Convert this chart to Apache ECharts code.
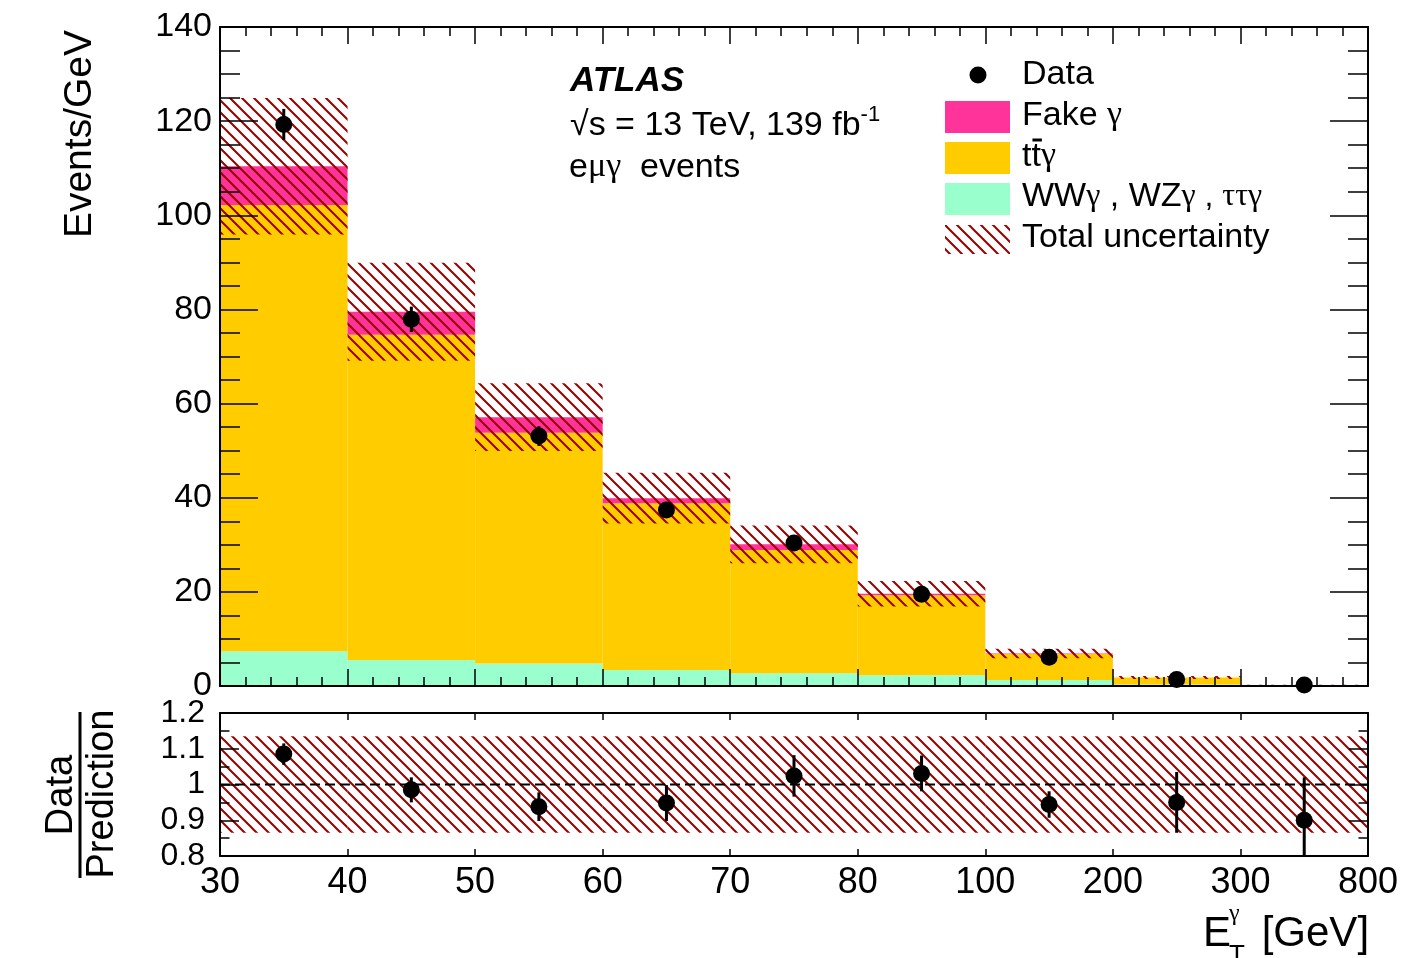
<!DOCTYPE html>
<html>
<head>
<meta charset="utf-8">
<script src="https://cdn.jsdelivr.net/npm/echarts@6/dist/echarts.min.js"></script>
<style>
  html, body { margin: 0; padding: 0; background: #fff; }
  #chart { width: 1415px; height: 958px; }
</style>
</head>
<body>
<div id="chart"></div>
<script>
// Bin edges of the photon transverse energy, in GeV (bins drawn with equal width)
const binEdgeLabels = ['30', '40', '50', '60', '70', '80', '100', '200', '300', '800'];

// Stacked predictions, events/GeV per bin
const otherBkg  = [7.4, 5.5, 4.8, 3.4, 2.7, 2.3, 1.3, 0.3, 0.1];      // WWγ, WZγ, ττγ
const ttGamma   = [94.8, 69.1, 49.0, 35.4, 26.2, 17.0, 5.5, 1.5, 0.1];
const fakeGamma = [8.2, 4.9, 3.3, 1.1, 1.2, 0.3, 0.1, 0.0, 0.0];

// Total uncertainty on the prediction (absolute, events/GeV)
const totalUnc = [14.5, 10.4, 7.2, 5.4, 4.0, 2.7, 1.0, 0.3, 0.05];

// Observed data and statistical errors
const dataVals = [119.3, 77.9, 53.1, 37.4, 30.4, 19.5, 6.1, 1.4, 0.2];
const dataErrs = [3.3, 2.7, 2.1, 1.7, 1.6, 0.9, 0.5, 0.2, 0.1];

// Data / prediction ratio
const ratioVals = [1.085, 0.985, 0.938, 0.948, 1.024, 1.031, 0.944, 0.950, 0.900];
const ratioErrs = [0.030, 0.035, 0.040, 0.050, 0.058, 0.050, 0.037, 0.085, 0.120];
const ratioBand = [0.135, 0.135, 0.135, 0.135, 0.135, 0.135, 0.135, 0.135, 0.135];

// Axis tick values
const mainYTicks  = { min: 0, max: 140, step: 20 };
const ratioYTicks = { min: 0.8, max: 1.2, step: 0.1 };

const COLORS = { other: '#99ffcc', tt: '#ffcc00', fake: '#ff3399', hatch: '#990000' };
const SANS = '"Liberation Sans", Arial, Helvetica, sans-serif';
const SERIF = '"Liberation Serif", "DejaVu Serif", serif';

// Diagonal "\\\\" hatch used for the uncertainty bands
function hatchPattern(size, width, color) {
  const c = document.createElement('canvas');
  c.width = size; c.height = size;
  const g = c.getContext('2d');
  g.strokeStyle = color; g.lineWidth = width;
  g.beginPath();
  for (let k = -1; k <= 1; k++) {
    g.moveTo(k * size - 1, -1);
    g.lineTo(k * size + size + 1, size + 1);
  }
  g.stroke();
  return { image: c, repeat: 'repeat' };
}
const hatch = hatchPattern(12, 2, COLORS.hatch);

// Build stacked [bin, low, high] rows
const nBins = dataVals.length;
const otherRows = [], ttRows = [], fakeRows = [], uncRows = [], dataRows = [];
const ratioBandRows = [], ratioRows = [];
for (let i = 0; i < nBins; i++) {
  const a = otherBkg[i], b = a + ttGamma[i], c = b + fakeGamma[i];
  otherRows.push([i, 0, a]);
  ttRows.push([i, a, b]);
  fakeRows.push([i, b, c]);
  uncRows.push([i, c - totalUnc[i], c + totalUnc[i]]);
  dataRows.push([i, dataVals[i], dataErrs[i]]);
  ratioBandRows.push([i, 1 - ratioBand[i], 1 + ratioBand[i]]);
  ratioRows.push([i, ratioVals[i], ratioErrs[i]]);
}

function binRect(fill) {
  return function (params, api) {
    const i = api.value(0), lo = api.value(1), hi = api.value(2);
    const p0 = api.coord([i, hi]);
    const p1 = api.coord([i + 1, lo]);
    return {
      type: 'rect',
      shape: { x: p0[0], y: p0[1], width: p1[0] - p0[0], height: p1[1] - p0[1] },
      style: { fill: fill, stroke: null }
    };
  };
}

function pointWithError(yMin) {
  return function (params, api) {
    const x = api.value(0) + 0.5, y = api.value(1), e = api.value(2);
    const c = api.coord([x, y]);
    const top = api.coord([x, y + e]);
    const bot = api.coord([x, Math.max(y - e, yMin)]);
    return {
      type: 'group',
      children: [
        { type: 'line', shape: { x1: c[0], y1: top[1], x2: c[0], y2: bot[1] }, style: { stroke: '#000', lineWidth: 3 } },
        { type: 'circle', shape: { cx: c[0], cy: c[1], r: 8.5 }, style: { fill: '#000' } }
      ]
    };
  };
}

// Axis helpers
const tickStyle = { color: '#000', width: 1.5 };
function xAxisDef(grid, pos, opts) {
  return Object.assign({
    gridIndex: grid, type: 'value', position: pos, min: 0, max: nBins, interval: 1,
    axisLine: { show: true, onZero: false, lineStyle: { color: '#000', width: 2 } },
    axisTick: { show: true, inside: true, length: 17, lineStyle: tickStyle },
    minorTick: { show: true, splitNumber: 5, length: 9, lineStyle: tickStyle },
    axisLabel: { show: false },
    splitLine: { show: false },
    z: 10
  }, opts || {});
}
function yAxisDef(grid, pos, ticks, opts) {
  return Object.assign({
    gridIndex: grid, type: 'value', position: pos,
    min: ticks.min, max: ticks.max, interval: ticks.step,
    axisLine: { show: true, onZero: false, lineStyle: { color: '#000', width: 2 } },
    axisTick: { show: true, inside: true, length: 38, lineStyle: tickStyle },
    minorTick: { show: true, splitNumber: 4, length: 20, lineStyle: tickStyle },
    axisLabel: { show: false },
    splitLine: { show: false },
    z: 10
  }, opts || {});
}

// Text placed piece by piece on a common baseline
const meas = document.createElement('canvas').getContext('2d');
function fontStr(p) {
  return (p.style || 'normal') + ' ' + (p.weight || 'normal') + ' ' + p.size + 'px ' + (p.family || SANS);
}
function textRun(x, baseline, parts) {
  const out = [];
  let cx = x;
  for (const p of parts) {
    const f = fontStr(p);
    const b = baseline + (p.dy || 0);
    out.push({
      type: 'text', x: cx, y: b - 0.3465 * p.size, z: 20,
      style: { text: p.t, font: f, fill: '#000', textAlign: 'left', textVerticalAlign: 'middle', align: 'left', verticalAlign: 'middle' }
    });
    meas.font = f;
    cx += meas.measureText(p.t).width + (p.gap || 0);
  }
  return out;
}
function textWidth(t, p) { meas.font = fontStr(p); return meas.measureText(t).width; }

const graphics = [];
// Experiment labels
graphics.push(...textRun(570, 93, [{ t: 'ATLAS', size: 35, weight: 'bold', style: 'italic' }]));
graphics.push(...textRun(570, 137, [{ t: '√s = 13 TeV, 139 fb', size: 34 }, { t: '-1', size: 22, dy: -14 }]));
graphics.push(...textRun(569, 179, [{ t: 'e', size: 34 }, { t: 'μγ', size: 34, family: SERIF }, { t: '  events', size: 34 }]));

// Legend
const legX = 945, legW = 65, legTextX = 1022;
graphics.push({ type: 'circle', shape: { cx: 978, cy: 75, r: 8.5 }, style: { fill: '#000' }, z: 20 });
graphics.push(...textRun(legTextX, 86, [{ t: 'Data', size: 34 }]));
graphics.push({ type: 'rect', shape: { x: legX, y: 101, width: legW, height: 32 }, style: { fill: COLORS.fake }, z: 20 });
graphics.push(...textRun(legTextX, 127, [{ t: 'Fake ', size: 34 }, { t: 'γ', size: 34, family: SERIF }]));
graphics.push({ type: 'rect', shape: { x: legX, y: 142, width: legW, height: 32 }, style: { fill: COLORS.tt }, z: 20 });
graphics.push(...textRun(legTextX, 168, [{ t: 'tt', size: 34 }, { t: 'γ', size: 34, family: SERIF }]));
(function () {
  const w1 = textWidth('t', { size: 34 });
  graphics.push({ type: 'line', shape: { x1: legTextX + w1 + 1, y1: 140, x2: legTextX + 2 * w1 + 1, y2: 140 }, style: { stroke: '#000', lineWidth: 3 }, z: 20 });
})();
graphics.push({ type: 'rect', shape: { x: legX, y: 183, width: legW, height: 32 }, style: { fill: COLORS.other }, z: 20 });
graphics.push(...textRun(legTextX, 208, [
  { t: 'WW', size: 34 }, { t: 'γ', size: 32, family: SERIF }, { t: ' , WZ', size: 34 },
  { t: 'γ', size: 32, family: SERIF }, { t: ' , ', size: 32 }, { t: 'ττγ', size: 32, family: SERIF }
]));
graphics.push({ type: 'rect', shape: { x: legX, y: 225, width: legW, height: 29 }, style: { fill: hatch }, z: 20 });
graphics.push(...textRun(legTextX, 249, [{ t: 'Total uncertainty', size: 34 }]));

// Axis titles
graphics.push({
  type: 'text', x: 80, y: 30, rotation: Math.PI / 2, z: 20,
  style: { text: 'Events/GeV', font: '39px ' + SANS, fill: '#000', textAlign: 'right', textVerticalAlign: 'middle', align: 'right', verticalAlign: 'middle' }
});
graphics.push({
  type: 'text', x: 62, y: 795, rotation: Math.PI / 2, z: 20,
  style: { text: 'Data', font: '38px ' + SANS, fill: '#000', textAlign: 'center', textVerticalAlign: 'middle', align: 'center', verticalAlign: 'middle' }
});
graphics.push({
  type: 'text', x: 103, y: 794, rotation: Math.PI / 2, z: 20,
  style: { text: 'Prediction', font: '38px ' + SANS, fill: '#000', textAlign: 'center', textVerticalAlign: 'middle', align: 'center', verticalAlign: 'middle' }
});
graphics.push({ type: 'line', shape: { x1: 80, y1: 712, x2: 80, y2: 878 }, style: { stroke: '#000', lineWidth: 3 }, z: 20 });
graphics.push(...textRun(1203, 949, [{ t: 'E', size: 42 }]));
graphics.push(...textRun(1229, 965, [{ t: 'T', size: 26 }]));
graphics.push(...textRun(1229, 922, [{ t: 'γ', size: 24, family: SERIF }]));
graphics.push(...textRun(1250, 949, [{ t: ' [GeV]', size: 42 }]));

const option = {
  animation: false,
  backgroundColor: '#fff',
  textStyle: { fontFamily: SANS },
  grid: [
    { left: 220, top: 27, width: 1148, height: 659, containLabel: false },
    { left: 220, top: 713, width: 1148, height: 143, containLabel: false }
  ],
  xAxis: [
    xAxisDef(0, 'bottom'),
    xAxisDef(0, 'top'),
    xAxisDef(1, 'bottom', {
      axisTick: { show: true, inside: true, length: 7, lineStyle: tickStyle },
      minorTick: { show: false },
      axisLabel: {
        show: true, fontSize: 36, color: '#000', fontFamily: SANS, margin: 9,
        formatter: function (v) { return binEdgeLabels[Math.round(v)]; }
      }
    }),
    xAxisDef(1, 'top', {
      axisTick: { show: true, inside: true, length: 7, lineStyle: tickStyle },
      minorTick: { show: false }
    })
  ],
  yAxis: [
    yAxisDef(0, 'left', mainYTicks, {
      axisLabel: { show: true, fontSize: 34, color: '#000', fontFamily: SANS, margin: 8 }
    }),
    yAxisDef(0, 'right', mainYTicks),
    yAxisDef(1, 'left', ratioYTicks, {
      axisTick: { show: true, inside: true, length: 19, lineStyle: tickStyle },
      minorTick: { show: true, splitNumber: 2, length: 9.5, lineStyle: tickStyle },
      axisLabel: {
        show: true, fontSize: 32, color: '#000', fontFamily: SANS, margin: 15,
        formatter: function (v) { return String(+v.toFixed(2)); }
      }
    }),
    yAxisDef(1, 'right', ratioYTicks, {
      axisTick: { show: true, inside: true, length: 19, lineStyle: tickStyle },
      minorTick: { show: true, splitNumber: 2, length: 9.5, lineStyle: tickStyle }
    })
  ],
  series: [
    { name: 'WWγ, WZγ, ττγ', type: 'custom', xAxisIndex: 0, yAxisIndex: 0, z: 2, renderItem: binRect(COLORS.other), encode: { x: 0, y: [1, 2] }, data: otherRows },
    { name: 'ttγ', type: 'custom', xAxisIndex: 0, yAxisIndex: 0, z: 2, renderItem: binRect(COLORS.tt), encode: { x: 0, y: [1, 2] }, data: ttRows },
    { name: 'Fake γ', type: 'custom', xAxisIndex: 0, yAxisIndex: 0, z: 2, renderItem: binRect(COLORS.fake), encode: { x: 0, y: [1, 2] }, data: fakeRows },
    { name: 'Total uncertainty', type: 'custom', xAxisIndex: 0, yAxisIndex: 0, z: 3, renderItem: binRect(hatch), encode: { x: 0, y: [1, 2] }, data: uncRows },
    { name: 'Data', type: 'custom', xAxisIndex: 0, yAxisIndex: 0, z: 5, renderItem: pointWithError(mainYTicks.min), encode: { x: 0, y: 1 }, data: dataRows },
    { name: 'Ratio uncertainty', type: 'custom', xAxisIndex: 2, yAxisIndex: 2, z: 3, renderItem: binRect(hatch), encode: { x: 0, y: [1, 2] }, data: ratioBandRows },
    {
      name: 'Unity', type: 'line', xAxisIndex: 2, yAxisIndex: 2, z: 4, symbol: 'none', silent: true,
      lineStyle: { color: '#000', width: 2, type: [10, 5] },
      data: [[0, 1], [nBins, 1]]
    },
    { name: 'Ratio', type: 'custom', xAxisIndex: 2, yAxisIndex: 2, z: 5, renderItem: pointWithError(ratioYTicks.min), encode: { x: 0, y: 1 }, data: ratioRows }
  ],
  graphic: { elements: graphics }
};

const chart = echarts.init(document.getElementById('chart'), null, { renderer: 'canvas' });
chart.setOption(option);
</script>
</body>
</html>
